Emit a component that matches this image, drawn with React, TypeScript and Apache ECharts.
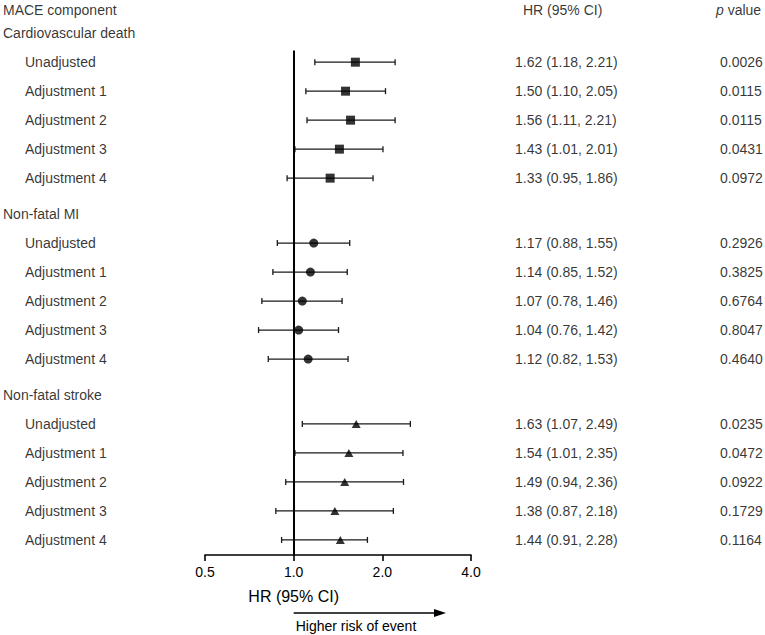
import React, { useEffect, useRef } from "react";
import * as echarts from "echarts";

const groupNames = ["Cardiovascular death", "Non-fatal MI", "Non-fatal stroke"];
const rowLabels = ["Unadjusted", "Adjustment 1", "Adjustment 2", "Adjustment 3", "Adjustment 4"];

const cvEst = [1.62, 1.5, 1.56, 1.43, 1.33];
const cvLo = [1.18, 1.1, 1.11, 1.01, 0.95];
const cvHi = [2.21, 2.05, 2.21, 2.01, 1.86];
const cvHR = ["1.62 (1.18, 2.21)", "1.50 (1.10, 2.05)", "1.56 (1.11, 2.21)", "1.43 (1.01, 2.01)", "1.33 (0.95, 1.86)"];
const cvP = ["0.0026", "0.0115", "0.0115", "0.0431", "0.0972"];

const miEst = [1.17, 1.14, 1.07, 1.04, 1.12];
const miLo = [0.88, 0.85, 0.78, 0.76, 0.82];
const miHi = [1.55, 1.52, 1.46, 1.42, 1.53];
const miHR = ["1.17 (0.88, 1.55)", "1.14 (0.85, 1.52)", "1.07 (0.78, 1.46)", "1.04 (0.76, 1.42)", "1.12 (0.82, 1.53)"];
const miP = ["0.2926", "0.3825", "0.6764", "0.8047", "0.4640"];

const strokeEst = [1.63, 1.54, 1.49, 1.38, 1.44];
const strokeLo = [1.07, 1.01, 0.94, 0.87, 0.91];
const strokeHi = [2.49, 2.35, 2.36, 2.18, 1.78];
const strokeHR = ["1.63 (1.07, 2.49)", "1.54 (1.01, 2.35)", "1.49 (0.94, 2.36)", "1.38 (0.87, 2.18)", "1.44 (0.91, 2.28)"];
const strokeP = ["0.0235", "0.0472", "0.0922", "0.1729", "0.1164"];

const xTicks = [0.5, 1.0, 2.0, 4.0];

const FONT = "'Liberation Sans', Arial, Helvetica, sans-serif";

export default function App() {
  const ref = useRef<HTMLDivElement>(null);
  useEffect(() => {
    if (!ref.current) return;
    const chart = echarts.init(ref.current, undefined, { renderer: "svg" });

    const groups = [
      { est: cvEst, lo: cvLo, hi: cvHi, hr: cvHR, p: cvP, symbol: "rect", size: [9, 9] },
      { est: miEst, lo: miLo, hi: miHi, hr: miHR, p: miP, symbol: "circle", size: [9, 9] },
      { est: strokeEst, lo: strokeLo, hi: strokeHi, hr: strokeHR, p: strokeP, symbol: "triangle", size: [9, 8] },
    ];
    const groupStep = 6.24;
    const headerY = -0.8;
    const xMin = xTicks[0];
    const xMax = xTicks[xTicks.length - 1];

    const series: any[] = [];
    const leftTexts: any[] = [{ value: [xMin, headerY], name: "MACE component", indent: 0 }];
    const hrTexts: any[] = [];
    const pTexts: any[] = [];

    groups.forEach((g, gi) => {
      const base = gi * groupStep;
      leftTexts.push({ value: [xMin, base], name: groupNames[gi], indent: 0 });
      const barData: any[] = [];
      const ptData: any[] = [];
      g.est.forEach((e, i) => {
        const y = base + 1 + i;
        leftTexts.push({ value: [xMin, y], name: rowLabels[i], indent: 1 });
        hrTexts.push({ value: [xMax, y], name: g.hr[i] });
        pTexts.push({ value: [xMax, y], name: g.p[i] });
        barData.push([y, g.lo[i], g.hi[i]]);
        ptData.push([e, y]);
      });
      series.push({
        type: "custom",
        silent: true,
        clip: false,
        encode: { x: [1, 2], y: 0 },
        data: barData,
        renderItem: (params: any, api: any) => {
          const y = api.value(0);
          const pL = api.coord([api.value(1), y]);
          const pH = api.coord([api.value(2), y]);
          const cap = 3;
          const st = { stroke: "#1a1a1a", lineWidth: 1.3 };
          return {
            type: "group",
            children: [
              { type: "line", shape: { x1: pL[0], y1: pL[1], x2: pH[0], y2: pH[1] }, style: st },
              { type: "line", shape: { x1: pL[0], y1: pL[1] - cap, x2: pL[0], y2: pL[1] + cap }, style: st },
              { type: "line", shape: { x1: pH[0], y1: pH[1] - cap, x2: pH[0], y2: pH[1] + cap }, style: st },
            ],
          };
        },
        z: 3,
      });
      series.push({
        type: "scatter",
        silent: true,
        symbol: g.symbol,
        symbolSize: g.size,
        itemStyle: { color: "#000" },
        data: ptData,
        z: 4,
      });
    });

    const textSeries = (data: any[], offsetFn: (d: any) => number) => ({
      type: "scatter",
      silent: true,
      clip: false,
      symbolSize: 0,
      data: data.map((d) => ({
        value: d.value,
        name: d.name,
        label: { offset: [offsetFn(d), 0] },
      })),
      label: {
        show: true,
        position: "right",
        distance: 0,
        formatter: "{b}",
        fontFamily: FONT,
        fontSize: 14,
        color: "#000",
      },
      z: 5,
    });

    series.push(textSeries(leftTexts, (d) => (d.indent ? -180 : -202)));
    series.push(textSeries(hrTexts, () => 44));
    series.push(textSeries(pTexts, () => 249));
    series.push(textSeries([{ value: [xMax, headerY], name: "HR (95% CI)" }], () => 52));
    series.push({
      type: "scatter",
      silent: true,
      clip: false,
      symbolSize: 0,
      data: [{ value: [xMax, headerY], name: "p value" }],
      label: {
        show: true,
        position: "right",
        distance: 0,
        offset: [245, 0],
        formatter: "{i|p} value",
        fontFamily: FONT,
        fontSize: 14,
        color: "#000",
        rich: { i: { fontStyle: "italic", fontFamily: FONT, fontSize: 14, color: "#000" } },
      },
    });
    // reference line at HR = 1
    series.push({
      type: "scatter",
      silent: true,
      symbolSize: 0,
      data: [],
      markLine: {
        silent: true,
        symbol: ["none", "none"],
        label: { show: false },
        lineStyle: { color: "#000", width: 2, type: "solid" },
        data: [[{ coord: [1, 0.6] }, { coord: [1, 18] }]],
      },
    });

    chart.setOption({
      animation: false,
      grid: { left: 205, right: 294, top: 10, bottom: 80, containLabel: false },
      xAxis: {
        type: "log",
        logBase: 2,
        min: xMin,
        max: xMax,
        position: "bottom",
        axisLine: { show: true, onZero: false, lineStyle: { color: "#000", width: 1.6 } },
        axisTick: { show: true, length: 6, lineStyle: { color: "#000", width: 1.6 } },
        axisLabel: {
          margin: 10,
          fontFamily: FONT,
          fontSize: 14,
          color: "#000",
          formatter: (v: number) => Number(v).toFixed(1),
        },
        splitLine: { show: false },
      },
      yAxis: { type: "value", inverse: true, min: -0.8, max: 18, show: false },
      series,
    });

    const x1 = chart.convertToPixel({ xAxisIndex: 0 }, 1) as number;
    chart.setOption({
      graphic: [
        {
          type: "text",
          x: x1,
          y: 596,
          style: {
            text: "HR (95% CI)",
            fontFamily: FONT,
            fontSize: 16,
            fill: "#000",
            textAlign: "center",
            textVerticalAlign: "middle",
          },
        },
        {
          type: "line",
          shape: { x1: x1, y1: 613, x2: 436, y2: 613 },
          style: { stroke: "#000", lineWidth: 1.5 },
        },
        {
          type: "polygon",
          shape: { points: [[446, 613], [434, 609], [434, 617]] },
          style: { fill: "#000" },
        },
        {
          type: "text",
          x: x1 + 2,
          y: 626,
          style: {
            text: "Higher risk of event",
            fontFamily: FONT,
            fontSize: 14,
            fill: "#000",
            textAlign: "left",
            textVerticalAlign: "middle",
          },
        },
      ],
    });

    return () => chart.dispose();
  }, []);
  return (
    <div
      ref={ref}
      style={{ position: "absolute", left: 0, top: 0, width: 765, height: 635, background: "#fff" }}
    />
  );
}
